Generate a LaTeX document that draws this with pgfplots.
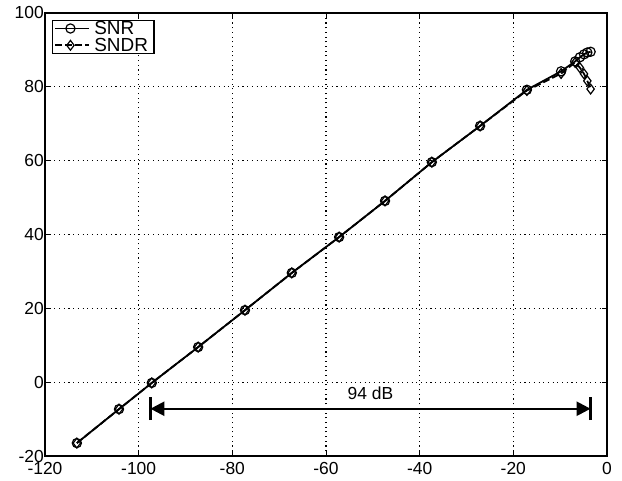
\documentclass[border=0pt]{standalone}
\usepackage{pgfplots}
\pgfplotsset{compat=1.18}
\usepackage{fontspec}
\setmainfont{Liberation Sans}
\usetikzlibrary{arrows.meta}
\begin{document}
\begin{tikzpicture}
\begin{axis}[
  scale only axis,
  width=562bp, height=443bp,
  xmin=-120, xmax=0, ymin=-20, ymax=100,
  xtick={-120,-100,...,0}, ytick={-20,0,...,100},
  /pgf/number format/assume math mode=true,
  ticklabel style={font=\fontsize{17.5}{20}\selectfont},
  xticklabel style={inner sep=3bp, yshift=-3bp},
  yticklabel style={inner sep=1bp},
  axis line style={line width=1.8bp},
  tick style={line width=1bp, black},
  major tick length=5bp,
  tick align=inside,
  xtick pos=both, ytick pos=both,
  grid=major,
  grid style={black, line width=1.1bp, dash pattern=on 1.1bp off 3.6bp},
  legend style={at={(0,1)}, anchor=north west, xshift=7bp, yshift=-7bp,
    nodes={font=\fontsize{19}{19}\selectfont, inner ysep=0.3bp, inner xsep=4bp},
    draw=black, line width=1.1bp,
    inner xsep=2bp, inner ysep=0.3bp, row sep=1.5bp, cells={anchor=west}},
  legend cell align=left,
  legend image code/.code={\draw[mark repeat=2,mark phase=2,#1] plot coordinates {(0bp,0bp) (15bp,0bp) (30bp,0bp)};
    \path (30bp,0bp) -- (34bp,0bp);},
  clip=false,
]
\addplot[black, line width=1.8bp, mark=o, mark size=4.6bp, mark options={solid, line width=1.2bp}]
coordinates {
(-113.2,-16.5) (-104.2,-7.3) (-97.2,-0.2) (-87.3,9.5) (-77.3,19.5) (-67.3,29.6)
(-57.2,39.3) (-47.4,49.1) (-37.4,59.6) (-27.1,69.4) (-17.1,79.2) (-9.8,84.2)
(-6.8,86.9) (-5.8,88.0) (-4.9,88.8) (-4.2,89.3) (-3.5,89.5)
};
\addlegendentry{SNR}
\addplot[black, line width=1.8bp, dash pattern=on 7bp off 3bp, mark=diamond, mark size=4.9bp, mark options={solid, line width=1.2bp}]
coordinates {
(-113.2,-16.5) (-104.2,-7.3) (-97.2,-0.2) (-87.3,9.5) (-77.3,19.5) (-67.3,29.6)
(-57.2,39.3) (-47.4,49.1) (-37.4,59.6) (-27.1,69.4) (-17.1,79.0) (-9.8,83.6)
(-6.8,86.6) (-5.8,85.2) (-4.9,83.5) (-4.2,81.6) (-3.5,79.4)
};
\addlegendentry{SNDR}
\draw[line width=2.4bp, {Triangle[length=14bp,width=14bp]}-{Triangle[length=14bp,width=14bp]}]
  (axis cs:-97.5,-7.2) -- (axis cs:-3.5,-7.2);
\draw[line width=2.6bp] (axis cs:-97.5,-10.3) -- (axis cs:-97.5,-4.1);
\draw[line width=2.6bp] (axis cs:-3.5,-10.3) -- (axis cs:-3.5,-4.1);
\node[font=\fontsize{17.5}{20}\selectfont] at (axis cs:-50.5,-3.0) {94 dB};
\end{axis}
\pgfresetboundingbox
\path ([shift={(-45bp,-25bp)}]current axis.south west) rectangle ([shift={(15bp,13bp)}]current axis.north east);
\end{tikzpicture}
\end{document}
